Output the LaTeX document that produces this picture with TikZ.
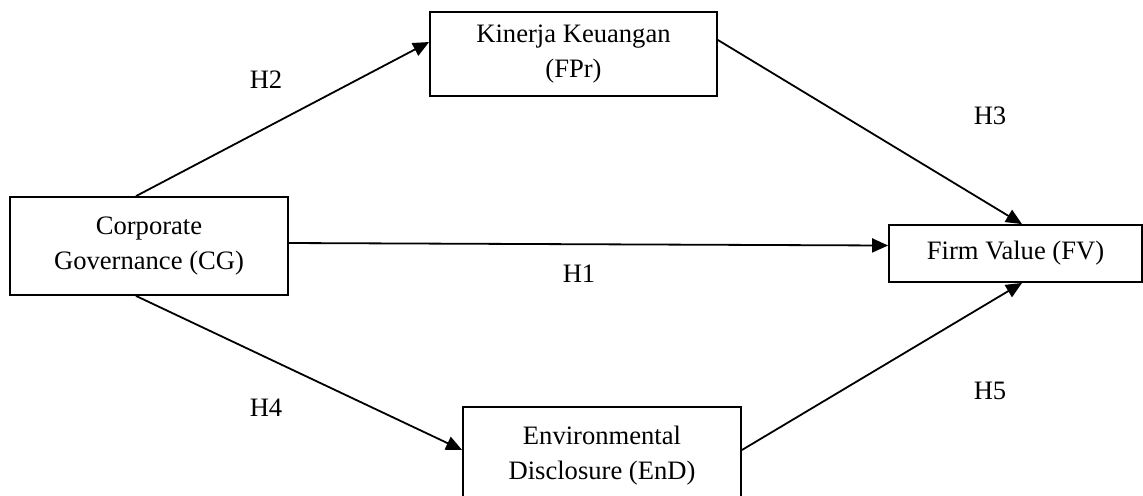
\documentclass[tikz,border=0pt]{standalone}
\usepackage{fontspec}
\setmainfont{Liberation Serif}
\usetikzlibrary{arrows.meta}

\begin{document}
\begin{tikzpicture}[x=0.5pt, y=-0.5pt, line width=0.9pt,
    box/.style={draw, rectangle, align=center, inner sep=0pt, font=\fontsize{13.3}{17.5}\selectfont},
    link/.style={-{Triangle[length=8pt, width=7pt]}},
    hyp/.style={font=\fontsize{13.3}{17.5}\selectfont}]
          \useasboundingbox (0,0) rectangle (1143,495);
          \clip (0,0) rectangle (1143,495);

          % Variables
          \node[box, minimum width=139pt, minimum height=49pt] (cg) at (149,246) {Corporate\\Governance (CG)};
          \node[box, minimum width=143.5pt, minimum height=42pt] (fpr) at (573.5,54) {Kinerja Keuangan\\(FPr)};
          \node[box, minimum width=139pt, minimum height=49pt] (end) at (602,456) {Environmental\\Disclosure (EnD)};
          \node[box, minimum width=126.5pt, minimum height=28.5pt] (fv) at (1015.5,253.5) {Firm Value (FV)};

          % Paths
          \draw[link] ([xshift=-6.5pt]cg.north) -- ([yshift=6pt]fpr.west);
          \draw[link] ([yshift=7pt]fpr.east) -- ([xshift=3.25pt]fv.north);
          \draw[link] ([yshift=1.5pt]cg.east) -- ([yshift=4pt]fv.west);
          \draw[link] ([xshift=-6.5pt]cg.south) -- ([yshift=3pt]end.west);
          \draw[link] ([yshift=3pt]end.east) -- ([xshift=3.25pt]fv.south);

          % Hypotheses
          \node[hyp] (h2) at (266,80) {H2};
          \node[hyp] (h3) at (990,116) {H3};
          \node[hyp] (h1) at (579,274) {H1};
          \node[hyp] (h4) at (266,408) {H4};
          \node[hyp] (h5) at (990,391) {H5};
        \end{tikzpicture}
\end{document}
